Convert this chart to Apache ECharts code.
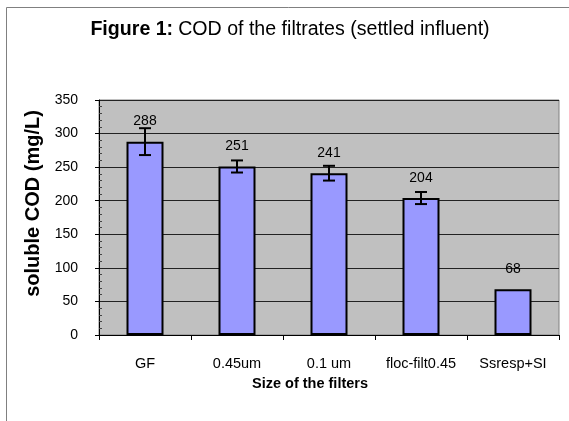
<!DOCTYPE html>
<html>
<head>
<meta charset="utf-8">
<script src="https://cdn.jsdelivr.net/npm/echarts@6/dist/echarts.min.js"></script>
<style>html,body{margin:0;padding:0;background:#fff}#c{width:569px;height:421px}</style>
</head>
<body>
<div id="c"></div>
<script>
const categories = ['GF', '0.45um', '0.1 um', 'floc-filt0.45', 'Ssresp+SI'];
const values = [288, 251, 241, 204, 68];
const errors = [20, 9, 11, 9, 0];
const yTicks = { min: 0, max: 350, interval: 50 };

const FONT = 'Liberation Sans, Arial, sans-serif';
const chart = echarts.init(document.getElementById('c'));

const errData = values.map((v, i) => [i, v - errors[i], v + errors[i]]);

chart.setOption({
  backgroundColor: '#fff',
  animation: false,
  title: {
    text: '{b|Figure 1:} {n|COD of the filtrates (settled influent)}',
    left: 285, top: 15, textAlign: 'center',
    textStyle: {
      rich: {
        b: { fontFamily: FONT, fontSize: 19.6, fontWeight: 'bold', color: '#000' },
        n: { fontFamily: FONT, fontSize: 19.6, fontWeight: 'normal', color: '#000' }
      }
    }
  },
  graphic: [{
    type: 'polyline', silent: true,
    shape: { points: [[6.5, 430], [6.5, 7.5], [580, 7.5]] },
    style: { fill: 'none', stroke: '#808080', lineWidth: 1 }
  }],
  grid: {
    left: 99, right: 10, top: 100, bottom: 86,
    show: true, backgroundColor: '#C0C0C0', borderColor: '#808080', borderWidth: 1
  },
  xAxis: {
    type: 'category', data: categories,
    name: 'Size of the filters', nameLocation: 'middle', nameGap: 41,
    nameTextStyle: { fontFamily: FONT, fontSize: 14.5, fontWeight: 'bold', color: '#000', padding: [0, 38, 0, 0] },
    axisLine: { lineStyle: { color: '#000', width: 1 } },
    axisTick: { show: true, length: 5, lineStyle: { color: '#000' } },
    axisLabel: { fontFamily: FONT, fontSize: 14.5, color: '#000', margin: 21 },
    splitLine: { show: false }
  },
  yAxis: [{
    type: 'value', min: yTicks.min, max: yTicks.max, interval: yTicks.interval, position: 'left',
    name: 'soluble COD (mg/L)', nameLocation: 'middle', nameGap: 51,
    nameTextStyle: { fontFamily: FONT, fontSize: 20, fontWeight: 'bold', color: '#000', padding: [0, 0, 0, 28] },
    axisLine: { show: true, lineStyle: { color: '#000', width: 1 } },
    axisTick: { show: true, length: 4, lineStyle: { color: '#000' } },
    axisLabel: { fontFamily: FONT, fontSize: 14, color: '#000', margin: 21 },
    splitLine: { show: true, lineStyle: { color: '#222', width: 1 } }
  }, {
    type: 'value', min: yTicks.min, max: yTicks.max, interval: yTicks.interval, position: 'left', offset: 0,
    axisLine: { show: false },
    axisTick: { show: true, inside: true, length: 0, lineStyle: { color: 'rgba(0,0,0,0)' } },
    minorTick: { show: true, splitNumber: 5, length: 3, lineStyle: { color: '#444' } },
    axisLabel: { show: false },
    splitLine: { show: false }
  }],
  series: [{
    type: 'bar', data: values, barWidth: 37,
    itemStyle: { color: '#9999FF', borderColor: '#000', borderWidth: 2 },
    label: { show: true, position: 'top', distance: 13, fontFamily: FONT, fontSize: 14, color: '#000' },
    z: 2
  }, {
    type: 'custom', data: errData, z: 5,
    renderItem: function (params, api) {
      const i = api.value(0);
      if (api.value(1) === api.value(2)) return null;
      const lo = api.coord([i, api.value(1)]);
      const hi = api.coord([i, api.value(2)]);
      const hw = 6;
      const st = { stroke: '#000', lineWidth: 2 };
      return {
        type: 'group',
        children: [
          { type: 'line', shape: { x1: lo[0], y1: lo[1], x2: hi[0], y2: hi[1] }, style: st },
          { type: 'line', shape: { x1: lo[0] - hw, y1: lo[1], x2: lo[0] + hw, y2: lo[1] }, style: st },
          { type: 'line', shape: { x1: hi[0] - hw, y1: hi[1], x2: hi[0] + hw, y2: hi[1] }, style: st }
        ]
      };
    }
  }]
});
</script>
</body>
</html>
